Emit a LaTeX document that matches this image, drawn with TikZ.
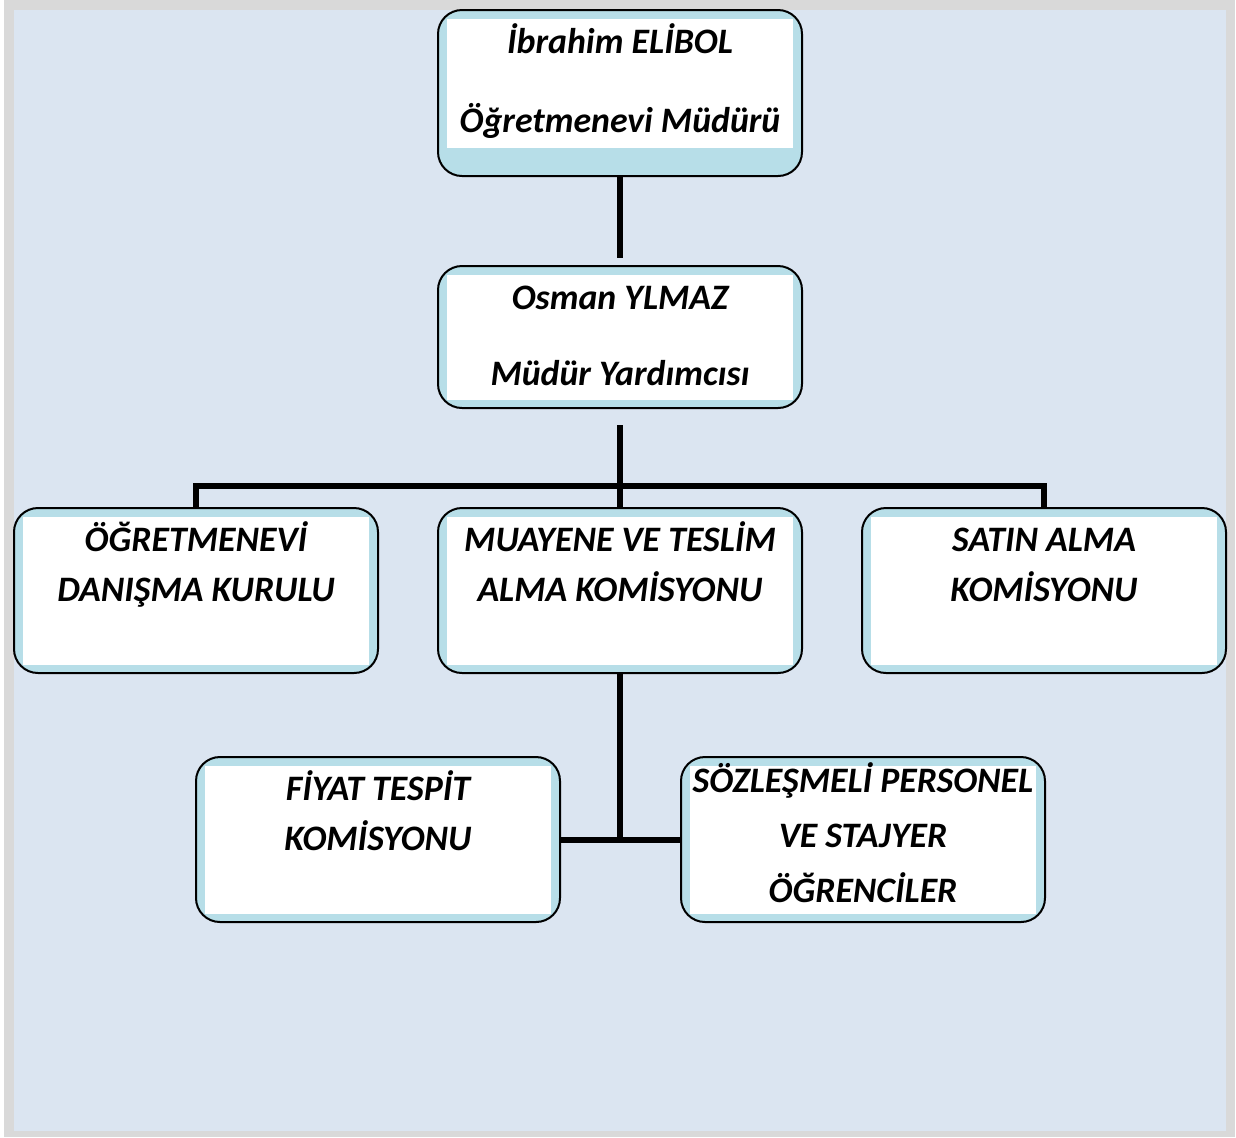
\documentclass[tikz,border=0pt]{standalone}
\usepackage{fontspec}
\setmainfont{Carlito}
\usetikzlibrary{positioning}

\definecolor{zemin}{HTML}{DBE5F1}
\definecolor{cerceve}{HTML}{D9D9D9}
\definecolor{golge}{HTML}{B7DEE8}

\tikzset{
  beyaz alt/.store in = \beyazalt,
  beyaz alt = 4pt,
  ust/.store in = \ustpay,
  ust = 21.5pt,
  % unit box with white inner panel
  birim/.style = {
    draw = black,
    line width = 1pt,
    fill = golge,
    rounded corners = 12pt,
    inner sep = 0pt,
    outer sep = 0pt,
    font = \fontsize{17.9pt}{25pt}\selectfont\bfseries\itshape,
    path picture = {
      \fill[white, sharp corners]
        ([xshift=4.5pt, yshift=\beyazalt]path picture bounding box.south west)
        rectangle
        ([xshift=-4.5pt, yshift=-4.5pt]path picture bounding box.north east);
    },
    execute at begin node = {\begin{minipage}[c][#1][t]{182pt}\centering\rule{0pt}{\ustpay}},
    execute at end node = {\end{minipage}}
  },
  birim/.default = 82.5pt,
  % connector
  hat/.style = {
    draw = black,
    line width = 3pt
  },
  node distance = 0.5cm
}

\begin{document}
\begin{tikzpicture}[x=0.5pt, y=-0.5pt]
    \fill[cerceve] (4,0) rectangle (1235,1137);
    \fill[zemin] (14,10) rectangle (1226,1131);
    \useasboundingbox (0,0) rectangle (1236,1137);

    \node[birim=83pt, beyaz alt=14pt] (mudur) at (620,93)
      {İbrahim ELİBOL\\[14.5pt]Öğretmenevi Müdürü};
    \node[birim=71pt] (yrd) [below=45pt of mudur]
      {Osman YLMAZ\\[13pt]Müdür Yardımcısı};

    \node[birim] (muayene) [below=50pt of yrd]
      {MUAYENE VE TESLİM\\ALMA KOMİSYONU};
    \node[birim] (danisma) [left=30pt of muayene]
      {ÖĞRETMENEVİ\\DANIŞMA KURULU};
    \node[birim] (satin) [right=30pt of muayene]
      {SATIN ALMA\\KOMİSYONU};

    \node[birim, below=42pt of muayene, xshift=-121pt] (fiyat)
      {FİYAT TESPİT\\KOMİSYONU};
    \node[birim, ust=17.5pt, below=42pt of muayene, xshift=121.5pt] (sozlesmeli)
      {SÖZLEŞMELİ PERSONEL\\[2.5pt]VE STAJYER\\[2.5pt]ÖĞRENCİLER};

    \coordinate[above=11pt of muayene] (dal);
    \coordinate (kavsak) at (muayene |- fiyat);

    \draw [hat, shorten >=4pt] (mudur) -- (yrd);
    \draw [hat, shorten <=8.5pt] (yrd) -- (muayene);
    \draw [hat] (danisma) |- (dal) -| (satin);

    \draw [hat] (muayene) -- (kavsak);
    \draw [hat] (fiyat) -- (sozlesmeli);
\end{tikzpicture}
\end{document}
